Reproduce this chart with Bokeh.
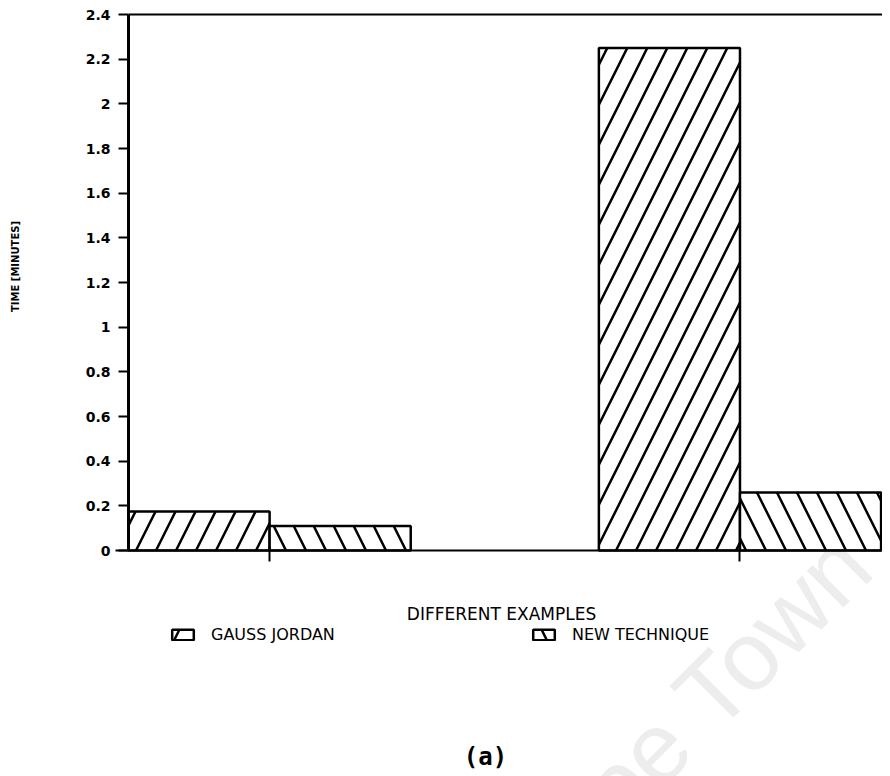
import math
from bokeh.plotting import figure
from bokeh.models import (Range1d, FixedTicker, LinearAxis, Legend,
                          LegendItem, ColumnDataSource, Label)
from bokeh.embed import file_html
from bokeh.resources import INLINE

# ---- data ----
examples = [1, 2]
gauss_jordan = [0.175, 2.25]
new_technique = [0.11, 0.26]
series_names = ["GAUSS JORDAN", "NEW TECHNIQUE"]
y_ticks = [0.0, 0.2, 0.4, 0.6, 0.8, 1.0, 1.2, 1.4, 1.6, 1.8, 2.0, 2.2, 2.4]
y_tick_labels = ["0", "0.2", "0.4", "0.6", "0.8", "1", "1.2", "1.4", "1.6",
                 "1.8", "2", "2.2", "2.4"]
x_title = "DIFFERENT EXAMPLES"
y_title = "TIME [MINUTES]"
caption = "(a)"

BAR_W = 0.3
X0, X1 = 0.70, 2.303          # data extent of the plotting area
Y0, Y1 = 0.0, 2.4

# the frame covers the whole canvas; axes are pinned inside it
W, H = 882, 776
LEFT_PX, BOTTOM_PX, TOP_PX = 128, 550, 14
ux = (W - LEFT_PX) / (X1 - X0)
uy = (BOTTOM_PX - TOP_PX) / (Y1 - Y0)
xr = Range1d(X0 - LEFT_PX / ux, X1)
yr = Range1d(Y0 - (H - BOTTOM_PX) / uy, Y1 + TOP_PX / uy)


def px(xp):
    return xr.start + xp / ux


def py(yp):
    return yr.end - yp / uy


src_gj = ColumnDataSource(dict(x=[e - BAR_W / 2 for e in examples], top=gauss_jordan))
src_nt = ColumnDataSource(dict(x=[e + BAR_W / 2 for e in examples], top=new_technique))

p = figure(width=W, height=H, output_backend="svg", toolbar_location=None,
           x_range=xr, y_range=yr, min_border=0,
           min_border_left=0, min_border_right=0, min_border_top=0,
           min_border_bottom=0)
p.outline_line_color = None
p.xgrid.grid_line_color = None
p.ygrid.grid_line_color = None
p.background_fill_color = "white"
p.border_fill_color = "white"

common = dict(width=BAR_W, bottom=0, fill_color="white", line_color="black",
              line_width=2.5, hatch_color="black", hatch_weight=2.5, hatch_scale=40)
r1 = p.vbar(x="x", top="top", source=src_gj, hatch_pattern="/", **common)
r2 = p.vbar(x="x", top="top", source=src_nt, hatch_pattern="\\", **common)

# y axis
ya = p.yaxis[0]
ya.fixed_location = X0
ya.bounds = (Y0, Y1)
ya.ticker = FixedTicker(ticks=y_ticks)
ya.major_label_overrides = {t: l for t, l in zip(y_ticks, y_tick_labels)}
ya.axis_line_width = 3
ya.axis_line_color = "black"
ya.major_tick_line_width = 2
ya.major_tick_out = 10
ya.major_tick_in = 0
ya.minor_tick_line_color = None
ya.major_label_standoff = 8
ya.major_label_text_font = "DejaVu Sans"
ya.major_label_text_font_style = "bold"
ya.major_label_text_font_size = "14px"
ya.major_label_text_color = "black"

# x axis
xa = p.xaxis[0]
xa.fixed_location = Y0
xa.bounds = (px(115), X1)
xa.ticker = FixedTicker(ticks=examples)
xa.major_label_overrides = {e: "" for e in examples}
xa.major_label_text_font_size = "0px"
xa.axis_line_width = 2
xa.axis_line_color = "black"
xa.major_tick_line_width = 2
xa.major_tick_out = 11
xa.major_tick_in = 4
xa.minor_tick_line_color = None

# top border line
top = LinearAxis(ticker=FixedTicker(ticks=[]), axis_line_width=2,
                 fixed_location=Y1, bounds=(X0, X1),
                 axis_line_color="black", major_label_text_font_size="0px",
                 major_tick_line_color=None, minor_tick_line_color=None)
p.add_layout(top, "above")

# faint scan watermark
p.add_layout(Label(x=px(596), y=py(806), text="pe Town", angle=math.pi / 4,
                   text_font="Liberation Sans", text_font_size="98px",
                   text_color="#ededed", text_align="left",
                   text_baseline="alphabetic", level="underlay"))

# titles
p.add_layout(Label(x=px(15), y=py(266), text=y_title, angle=math.pi / 2,
                   text_font="DejaVu Sans", text_font_style="bold",
                   text_font_size="10px", text_align="center",
                   text_baseline="middle", text_color="black"))
p.add_layout(Label(x=px(501), y=py(613), text=x_title,
                   text_font="DejaVu Sans", text_font_size="17px",
                   text_align="center", text_baseline="middle",
                   text_color="black"))
p.add_layout(Label(x=px(485), y=py(756), text=caption,
                   text_font="DejaVu Sans Mono", text_font_style="bold",
                   text_font_size="24px", text_align="center",
                   text_baseline="middle", text_color="black"))

# legends
leg_style = dict(border_line_color=None, background_fill_alpha=0, padding=0,
                 margin=0, spacing=0, glyph_width=27, glyph_height=13,
                 label_standoff=15, label_text_font="DejaVu Sans",
                 label_text_font_size="16px", label_height=13,
                 label_text_color="black")
p.add_layout(Legend(items=[LegendItem(label=series_names[0], renderers=[r1])],
                    location=(169, H - 644), **leg_style))
p.add_layout(Legend(items=[LegendItem(label=series_names[1], renderers=[r2])],
                    location=(530, H - 644), **leg_style))

open("out.html", "w").write(file_html(p, INLINE))
